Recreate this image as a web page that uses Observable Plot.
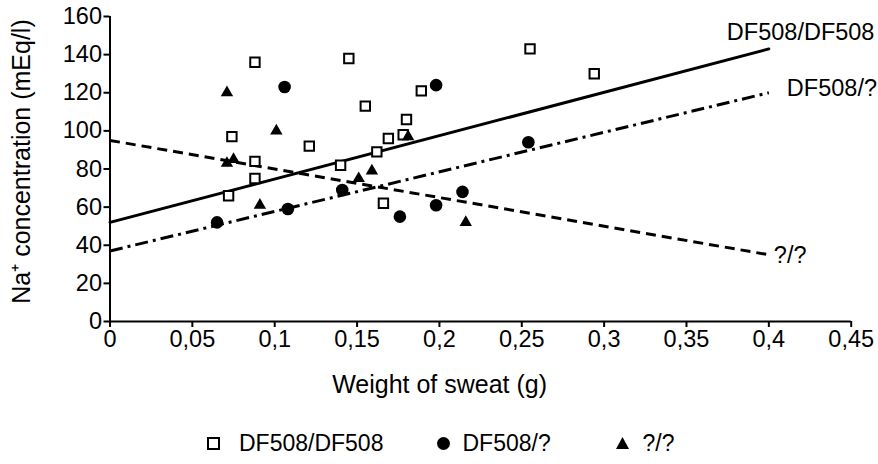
<!DOCTYPE html>
<html>
<head>
<meta charset="utf-8">
<script src="https://cdn.jsdelivr.net/npm/d3@7"></script>
<script src="https://cdn.jsdelivr.net/npm/@observablehq/plot@0.6"></script>
<style>
  body { margin: 0; background: #fff; }
  #chart { width: 878px; }
  #legend { position: relative; width: 878px; height: 54px; font: 23px "Liberation Sans", Arial, sans-serif; color: #000; }
  #legend .item { position: absolute; top: 6px; height: 54px; display: flex; align-items: center; }
  #legend svg { display: block; }
</style>
</head>
<body>
<div id="chart"></div>
<div id="legend"></div>
<script>
// Sweat weight (g) against Na+ concentration (mEq/l), by genotype group
const groupNames = ["DF508/DF508", "DF508/?", "?/?"];

const homX = [0.088, 0.074, 0.088, 0.088, 0.072, 0.145, 0.121, 0.155, 0.189, 0.180, 0.169, 0.178, 0.162, 0.140, 0.166, 0.255, 0.294];
const homY = [136, 97, 84, 75, 66, 138, 92, 113, 121, 106, 96, 98, 89, 82, 62, 143, 130];

const hetX = [0.106, 0.065, 0.108, 0.198, 0.141, 0.176, 0.198, 0.214, 0.254];
const hetY = [123, 52, 59, 124, 69, 55, 61, 68, 94];

const othX = [0.071, 0.101, 0.071, 0.075, 0.091, 0.159, 0.151, 0.181, 0.216];
const othY = [120, 100, 83, 85, 61, 79, 75, 97, 52];

// Regression lines: value at x = 0 and at x = 0.4
const fitX = [0, 0.4];
const fitStart = [52, 37, 95];
const fitEnd = [143, 120, 35];

const xTicks = [0, 0.05, 0.1, 0.15, 0.2, 0.25, 0.3, 0.35, 0.4, 0.45];
const yTicks = [0, 20, 40, 60, 80, 100, 120, 140, 160];

const pts = (xs, ys) => xs.map((x, i) => ({x, y: ys[i]}));
const fit = (i) => fitX.map((x, j) => ({x, y: j === 0 ? fitStart[i] : fitEnd[i]}));
const endPoint = (i) => [{x: fitX[1], y: fitEnd[i], label: groupNames[i]}];
const comma = (d) => String(d).replace(".", ",");

const font = "'Liberation Sans', Arial, sans-serif";

const chart = Plot.plot({
  width: 878,
  height: 410,
  marginLeft: 109.5,
  marginRight: 27.3,
  marginTop: 16,
  marginBottom: 89,
  x: {domain: [0, 0.45]},
  y: {domain: [0, 160]},
  style: {fontFamily: font, fontSize: "23.5px", color: "#000", background: "#fff", overflow: "visible"},
  marks: [
    Plot.axisX({ticks: xTicks, tickFormat: comma, tickSize: 6, tickPadding: 3, strokeWidth: 2, label: null, fontSize: 23.5}),
    Plot.axisY({ticks: yTicks, tickSize: 6, tickPadding: 2, strokeWidth: 2, label: null, fontSize: 23.5}),
    Plot.ruleY([0], {strokeWidth: 2}),
    Plot.ruleX([0], {strokeWidth: 2}),

    Plot.line(fit(0), {x: "x", y: "y", stroke: "#000", strokeWidth: 3}),
    Plot.line(fit(1), {x: "x", y: "y", stroke: "#000", strokeWidth: 3, strokeDasharray: "13,5,3,5", strokeLinecap: "butt"}),
    Plot.line(fit(2), {x: "x", y: "y", stroke: "#000", strokeWidth: 3, strokeDasharray: "10,6", strokeLinecap: "butt"}),

    Plot.dot(pts(homX, homY), {x: "x", y: "y", symbol: "square", r: 5.3, fill: "#fff", stroke: "#000", strokeWidth: 2}),
    Plot.dot(pts(hetX, hetY), {x: "x", y: "y", symbol: "circle", r: 6.3, fill: "#000", stroke: "none"}),
    Plot.dot(pts(othX, othY), {x: "x", y: "y", symbol: "triangle", r: 4.6, fill: "#000", stroke: "none"}),

    Plot.text(endPoint(0), {x: "x", y: "y", text: "label", textAnchor: "start", lineAnchor: "middle", dx: -42, dy: -16.5, fontSize: 23.5}),
    Plot.text(endPoint(1), {x: "x", y: "y", text: "label", textAnchor: "start", lineAnchor: "middle", dx: 18, dy: -4, fontSize: 23.5}),
    Plot.text(endPoint(2), {x: "x", y: "y", text: "label", textAnchor: "start", lineAnchor: "middle", dx: 5, dy: 1, fontSize: 23.5}),

    Plot.text(["Weight of sweat (g)"], {frameAnchor: "bottom", textAnchor: "middle", lineAnchor: "middle", dx: -41, dy: 63, fontSize: 25}),
    Plot.text(["Na\u207A concentration (mEq/l)"], {frameAnchor: "left", textAnchor: "middle", lineAnchor: "middle", rotate: -90, dx: -88.5, dy: -7.5, fontSize: 25})
  ]
});
document.getElementById("chart").append(chart);

// Legend below the chart
const legendItems = [
  {label: groupNames[0], left: 207, gap: 19, sym: '<rect x="1" y="1" width="11" height="11" fill="#fff" stroke="#000" stroke-width="2"/>'},
  {label: groupNames[1], left: 436.5, gap: 13, sym: '<circle cx="6.5" cy="6.5" r="6.5" fill="#000"/>'},
  {label: groupNames[2], left: 615.5, gap: 14, sym: '<path d="M6.5 0 L13 12 L0 12 Z" fill="#000"/>'}
];
const legend = document.getElementById("legend");
for (const it of legendItems) {
  const div = document.createElement("div");
  div.className = "item";
  div.style.left = it.left + "px";
  div.innerHTML = `<svg width="13" height="13" viewBox="0 0 13 13">${it.sym}</svg><span style="margin-left:${it.gap}px">${it.label}</span>`;
  legend.append(div);
}
</script>
</body>
</html>
